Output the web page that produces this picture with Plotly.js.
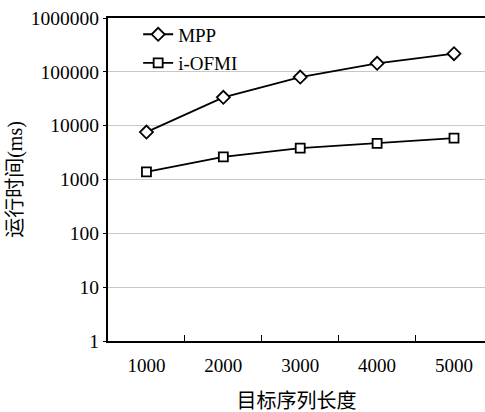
<!DOCTYPE html>
<html>
<head>
<meta charset="utf-8">
<script src="https://cdn.plot.ly/plotly-3.0.1.min.js"></script>
<style>html,body{margin:0;padding:0;background:#fff;}#chart{width:485px;height:412px;}</style>
</head>
<body>
<div id="chart"></div>
<script>
const categories = ['1000', '2000', '3000', '4000', '5000'];
const mppValues = [7600, 33600, 80000, 144000, 217000];
const iofmiValues = [1390, 2640, 3840, 4690, 5890];
const yTickVals = [1, 10, 100, 1000, 10000, 100000, 1000000];
const yTickText = ['1', '10', '100', '1000', '10000', '100000', '1000000'];

const serif = '"Liberation Serif", "Times New Roman", "Noto Sans CJK SC", serif';
const xNum = categories.map(Number);
const xStep = xNum[1] - xNum[0];
const xBounds = xNum.map(v => v - xStep / 2);
const xRange = [xNum[0] - xStep / 2, 5403];

const traces = [
  {
    x: xNum, y: mppValues, name: 'MPP', type: 'scatter', mode: 'lines+markers',
    legendgroup: 'a',
    line: {color: '#000', width: 1.8},
    marker: {symbol: 'diamond', size: 10, color: '#fff', line: {color: '#000', width: 1.8}}
  },
  {
    x: xNum, y: iofmiValues, name: 'i-OFMI', type: 'scatter', mode: 'lines+markers',
    legendgroup: 'b',
    line: {color: '#000', width: 1.8},
    marker: {symbol: 'square', size: 9, color: '#fff', line: {color: '#000', width: 1.8}}
  },
  {
    x: [null], y: [null], xaxis: 'x2', yaxis: 'y', type: 'scatter', mode: 'markers',
    showlegend: false, hoverinfo: 'skip', marker: {opacity: 0}
  }
];

const layout = {
  width: 485, height: 412,
  margin: {l: 108, r: 0, t: 18, b: 71},
  paper_bgcolor: '#fff', plot_bgcolor: '#fff',
  font: {family: serif, size: 18, color: '#000'},
  showlegend: true,
  legend: {
    x: 0.08, y: 1.008, xanchor: 'left', yanchor: 'top',
    bgcolor: 'rgba(0,0,0,0)', borderwidth: 0,
    font: {family: serif, size: 19, color: '#000'},
    traceorder: 'grouped', tracegroupgap: 1
  },
  xaxis: {
    type: 'linear',
    range: xRange,
    tickvals: xNum, ticktext: categories,
    showline: true, linecolor: '#000', linewidth: 2, mirror: true,
    showgrid: false, zeroline: false,
    ticks: '',
    ticklabelstandoff: 6,
    tickfont: {family: serif, size: 19, color: '#000'},
    title: {text: '目标序列长度', font: {family: serif, size: 20, color: '#000'}, standoff: 20}
  },
  xaxis2: {
    type: 'linear',
    overlaying: 'x', anchor: 'y', side: 'bottom',
    range: xRange,
    tickvals: xBounds,
    showticklabels: false,
    showline: false, showgrid: false, zeroline: false,
    ticks: 'inside', ticklen: 6, tickwidth: 1.2, tickcolor: '#000'
  },
  yaxis: {
    type: 'log',
    range: [0, 6],
    tickvals: yTickVals, ticktext: yTickText,
    showline: true, linecolor: '#000', linewidth: 2, mirror: false,
    showgrid: true, gridcolor: '#c8c8c8', gridwidth: 1,
    zeroline: false,
    ticks: 'outside', ticklen: 3, tickwidth: 1, tickcolor: '#000',
    tickfont: {family: serif, size: 19.5, color: '#000'},
    title: {text: '运行时间(ms)', font: {family: serif, size: 20, color: '#000'}, standoff: 3}
  }
};

Plotly.newPlot('chart', traces, layout, {displayModeBar: false, staticPlot: true});
</script>
</body>
</html>
